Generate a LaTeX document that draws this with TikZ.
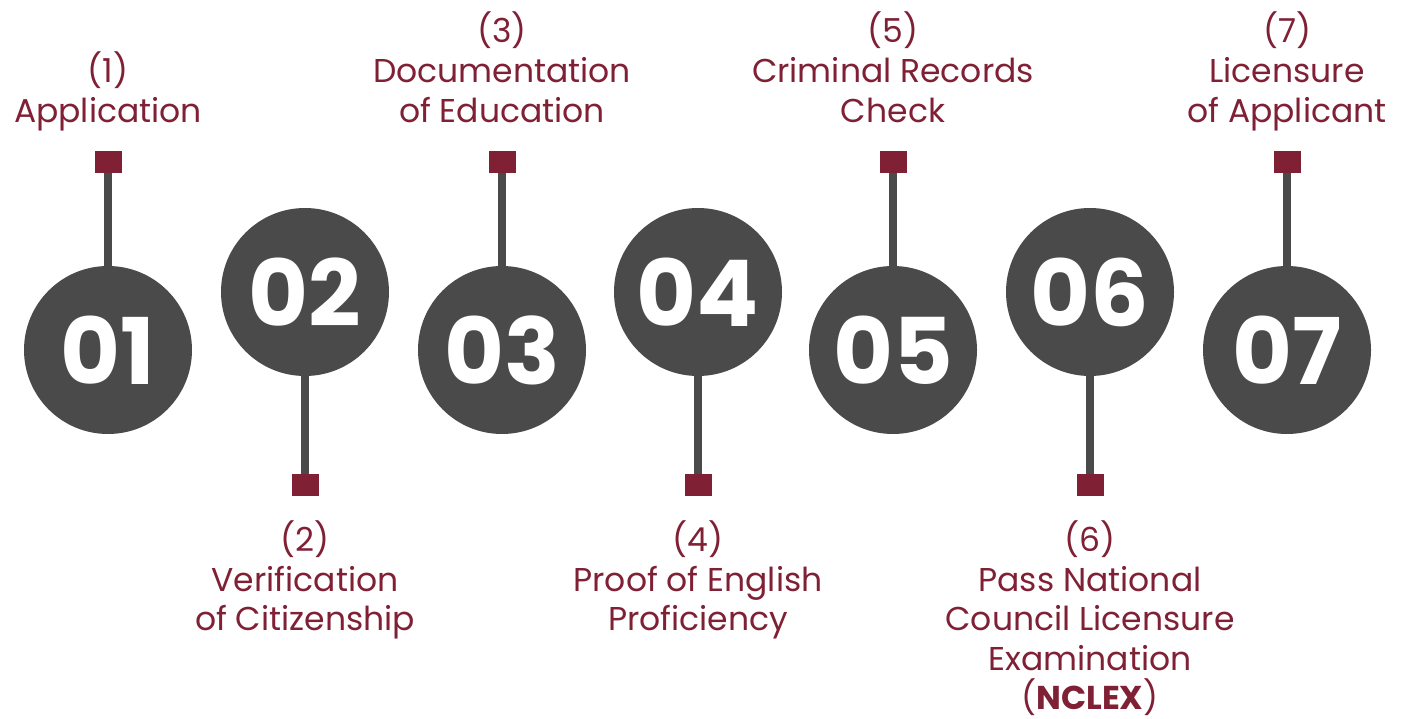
\documentclass[tikz,border=0pt]{standalone}
\usepackage{fontspec}
\setmainfont{Poppins}
\usetikzlibrary{positioning}
\definecolor{discgray}{HTML}{4A4A4A}
\definecolor{maroon}{HTML}{7F2035}

\begin{document}
\begin{tikzpicture}[x=1pt,y=-1pt,
    disc/.style={circle, fill=discgray, minimum size=168pt, inner sep=0pt,
                 text=white, font=\fontsize{92}{92}\selectfont\bfseries},
    tag/.style={fill=maroon, minimum width=27pt, minimum height=22pt, inner sep=0pt},
    stem/.style={draw=discgray, line width=8pt},
    toplabel/.style={text=maroon, align=center, inner sep=0pt, text depth=9pt,
                     font=\fontsize{33}{40}\selectfont},
    botlabel/.style={text=maroon, align=center, inner sep=0pt,
                     font=\fontsize{33}{39.5}\selectfont}]

    \useasboundingbox (0,0) rectangle (1410,719);

    % discs, low and high in turn
    \node[disc] (d1) at (108,350) {01};
    \node[disc] (d2) at (305,292) {02};
    \node[disc] (d3) at (502,350) {03};
    \node[disc] (d4) at (698,292) {04};
    \node[disc] (d5) at (893,350) {05};
    \node[disc] (d6) at (1090,292) {06};
    \node[disc] (d7) at (1287,350) {07};

    % tags on stems
    \foreach \i in {1,3,5,7} {
        \node[tag, above=93pt of d\i] (t\i) {};
        \draw[stem] (d\i.north) -- (t\i.south);
    }
    \foreach \i in {2,4,6} {
        \node[tag, below=98pt of d\i] (t\i) {};
        \draw[stem] (d\i.south) -- (t\i.north);
    }

    % step labels
    \node[toplabel, above=19pt of t1] (l1) {(1)\\Application};
    \node[botlabel, below=24pt of t2] (l2) {(2)\\Verification\\of Citizenship};
    \node[toplabel, above=19pt of t3] (l3) {(3)\\Documentation\\of Education};
    \node[botlabel, below=24pt of t4] (l4) {(4)\\Proof of English\\Proficiency};
    \node[toplabel, above=19pt of t5] (l5) {(5)\\Criminal Records\\Check};
    \node[botlabel, below=24pt of t6] (l6) {(6)\\Pass National\\Council Licensure\\Examination\\(\textbf{NCLEX})};
    \node[toplabel, above=19pt of t7] (l7) {(7)\\Licensure\\of Applicant};
\end{tikzpicture}
\end{document}
